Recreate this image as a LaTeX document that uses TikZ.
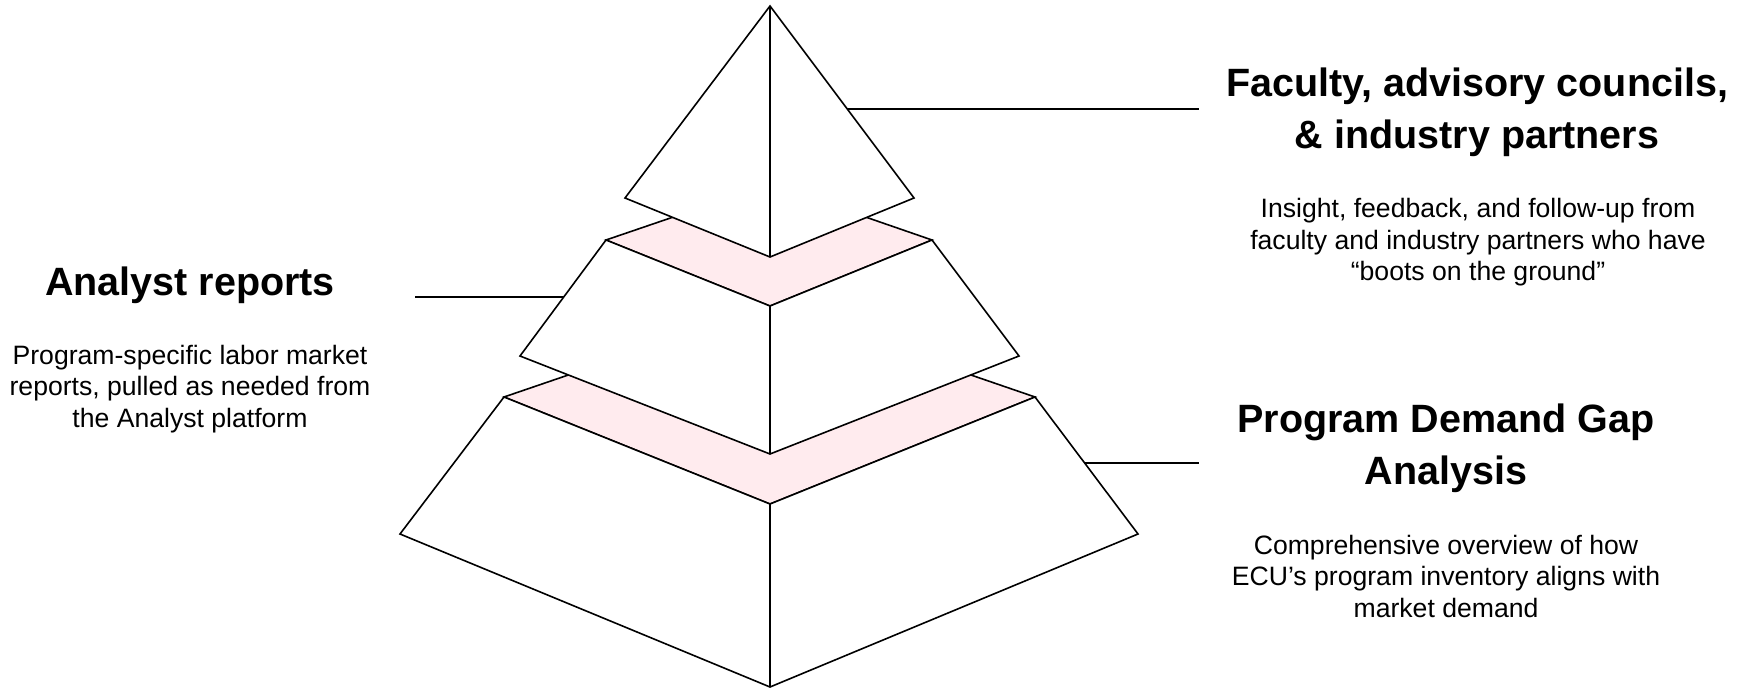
\documentclass[tikz,border=0pt]{standalone}
\usepackage{fontspec}
\setmainfont{Liberation Sans}
\definecolor{facepink}{RGB}{255,235,238}
\begin{document}
\begin{tikzpicture}[x=1pt,y=-1pt,
  edge/.style={draw=black,line width=1.6pt,line join=miter},
  topface/.style={edge,fill=facepink},
  sideface/.style={edge,fill=white},
  leader/.style={draw=black,line width=1.6pt},
  head/.style={align=center,inner sep=0pt,font=\fontsize{39.5}{52}\selectfont\bfseries},
  body/.style={align=center,inner sep=0pt,font=\fontsize{26.6}{31.5}\selectfont}]
\useasboundingbox (0,0) rectangle (1744,693);
% tier 3
\draw[topface] (504,397) -- (770,306) -- (1035,397) -- (770,504) -- cycle;
\draw[sideface] (504,397) -- (400,534) -- (770,687) -- (1138,534) -- (1035,397) -- (770,504) -- cycle;
\draw[edge] (770,504) -- (770,687);
% tier 2
\draw[topface] (606,240) -- (770,184) -- (932,240) -- (770,306) -- cycle;
\draw[sideface] (606,240) -- (520,356) -- (770,454) -- (1019,356) -- (932,240) -- (770,306) -- cycle;
\draw[edge] (770,306) -- (770,454);
% tier 1
\draw[sideface] (770,6) -- (625,198) -- (770,257) -- (914,198) -- cycle;
\draw[edge] (770,6) -- (770,257);
% anchors on edges
\coordinate (e1) at (847,109);
\coordinate (e2) at (564,297);
\coordinate (e3) at (1085,463);
\coordinate (l1) at (1199,109);
\coordinate (l2) at (415,297);
\coordinate (l3) at (1199,463);
\draw[leader] (e1) -- (l1);
\draw[leader] (l2) -- (e2);
\draw[leader] (e3) -- (l3);
% texts
\node[head] (h1) at (1477,112.5) {Faculty, advisory councils,\\\& industry partners};
\node[body] (b1) at (1478,242.5) {Insight, feedback, and follow-up from\\faculty and industry partners who have\\“boots on the ground”};
\node[head] (h2) at (190,285) {Analyst reports};
\node[body] (b2) at (190,389) {Program-specific labor market\\reports, pulled as needed from\\the Analyst platform};
\node[head] (h3) at (1446,448) {Program Demand Gap\\Analysis};
\node[body] (b3) at (1446,576) {Comprehensive overview of how\\ECU’s program inventory aligns with\\market demand};
\end{tikzpicture}
\end{document}
